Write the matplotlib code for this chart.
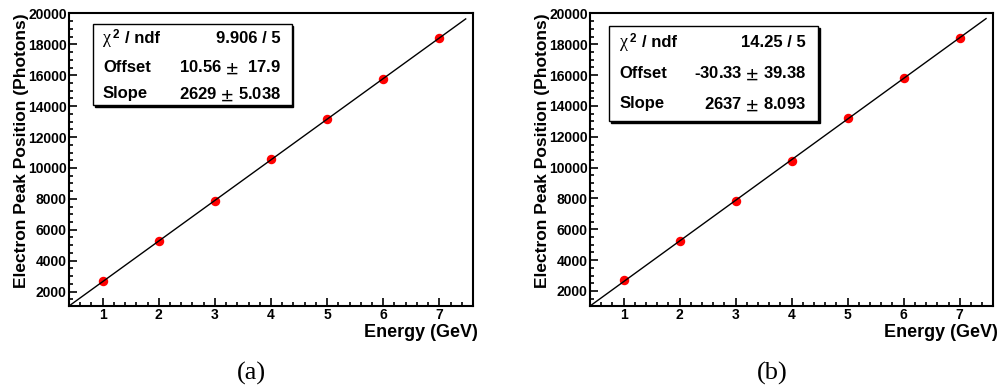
import matplotlib.pyplot as plt
from matplotlib.patches import Rectangle
from matplotlib.ticker import MultipleLocator

# beam energies and fitted electron peak positions for the two runs
energy = [1, 2, 3, 4, 5, 6, 7]
peak_a = [2650, 5255, 7870, 10590, 13165, 15775, 18425]
peak_b = [2685, 5265, 7820, 10450, 13235, 15800, 18430]

# linear fit results shown in the stats boxes
fit_a = {'chi2': '9.906 / 5', 'offset': 10.56, 'offset_err': ' 17.9', 'slope': 2629, 'slope_err': '5.038'}
fit_b = {'chi2': '14.25 / 5', 'offset': -30.33, 'offset_err': '39.38', 'slope': 2637, 'slope_err': '8.093'}
fit_range = [0.0, 7.47]

captions = ['(a)', '(b)']

plt.rcParams['font.family'] = ['Liberation Sans', 'DejaVu Sans']
plt.rcParams['font.weight'] = 'bold'
plt.rcParams['mathtext.fontset'] = 'stix'

fig = plt.figure(figsize=(9.97, 3.9), dpi=100)
ax_a = fig.add_axes([0.0692, 0.2154, 0.4052, 0.75])
ax_b = fig.add_axes([0.5918, 0.2154, 0.4045, 0.75])


def draw_panel(ax, peaks, fit, ymin, box, rows, textx):
    ax.set_xlim(0.4, 7.6)
    ax.set_ylim(ymin, 20000)
    fx = fit_range
    fy = [fit['offset'] + fit['slope'] * v for v in fx]
    ax.plot(energy, peaks, 'o', color='red', markersize=5.8, zorder=3)
    ax.plot(fx, fy, color='black', linewidth=1.0, zorder=4)

    for s in ax.spines.values():
        s.set_linewidth(1.5)
    ax.xaxis.set_major_locator(MultipleLocator(1))
    ax.xaxis.set_minor_locator(MultipleLocator(0.2))
    ax.yaxis.set_major_locator(MultipleLocator(2000))
    ax.yaxis.set_minor_locator(MultipleLocator(500))
    ax.tick_params(which='both', direction='in', top=False, right=False, width=1.2)
    ax.tick_params(which='major', length=5.6, labelsize=10)
    ax.tick_params(which='minor', length=3.0)
    ax.tick_params(axis='y', pad=1.7)
    ax.tick_params(axis='x', pad=1.8)
    for lab in ax.get_xticklabels() + ax.get_yticklabels():
        lab.set_fontweight('bold')

    ax.set_xlabel('Energy (GeV)', fontsize=13, fontweight='bold', loc='right')
    ax.xaxis.set_label_coords(1.012, -0.061)
    ax.xaxis.label.set_va('top')
    ax.set_ylabel('Electron Peak Position (Photons)', fontsize=12.5, fontweight='bold', loc='top')
    ax.yaxis.set_label_coords(-0.10, 1.0)

    # stats box with shadow, like ROOT
    x0, x1, y0, y1 = box
    sh = Rectangle((x0 + 0.004, y0 - 0.007), x1 - x0, y1 - y0, transform=ax.transAxes,
                   facecolor='black', edgecolor='black', zorder=5, clip_on=False)
    ax.add_patch(sh)
    r = Rectangle((x0, y0), x1 - x0, y1 - y0, transform=ax.transAxes,
                  facecolor='white', edgecolor='black', linewidth=1.0, zorder=6, clip_on=False)
    ax.add_patch(r)

    # chi is drawn in a serif face, the rest in bold sans
    ax.text(textx[0], rows[0], 'χ', transform=ax.transAxes, fontsize=13, family='Liberation Serif',
            fontweight='normal', va='center', ha='left', zorder=7)
    ax.text(textx[0] + 0.023, rows[0] + 0.012, '2', transform=ax.transAxes, fontsize=8.5,
            fontweight='bold', va='center', ha='left', zorder=7)
    ax.text(textx[0] + 0.055, rows[0], '/ ndf', transform=ax.transAxes, fontsize=12,
            fontweight='bold', va='center', ha='left', zorder=7)
    names = ['Offset', 'Slope']
    vals = ['%.2f $\\pm$ %s' % (fit['offset'], fit['offset_err']),
            '%d $\\pm$ %s' % (fit['slope'], fit['slope_err'])]
    ax.text(textx[1], rows[0], fit['chi2'], transform=ax.transAxes, fontsize=12,
            fontweight='bold', va='center', ha='right', zorder=7)
    for name, val, yy in zip(names, vals, rows[1:]):
        ax.text(textx[0], yy, name, transform=ax.transAxes, fontsize=12, fontweight='bold',
                va='center', ha='left', zorder=7)
        ax.text(textx[1], yy, val, transform=ax.transAxes, fontsize=12, fontweight='bold',
                va='center', ha='right', zorder=7)


draw_panel(ax_a, peak_a, fit_a, 1062, (0.060, 0.551, 0.686, 0.964),
           [0.913, 0.815, 0.725], (0.084, 0.525))
draw_panel(ax_b, peak_b, fit_b, 1025, (0.048, 0.566, 0.633, 0.958),
           [0.900, 0.796, 0.691], (0.074, 0.536))

fig.text(251.7 / 997, 1 - 373.3 / 390, captions[0], ha='center', va='center',
         fontsize=19, family='Liberation Serif', fontweight='normal')
fig.text(772.7 / 997, 1 - 373.3 / 390, captions[1], ha='center', va='center',
         fontsize=19, family='Liberation Serif', fontweight='normal')

fig.savefig('out.png', dpi=100)
